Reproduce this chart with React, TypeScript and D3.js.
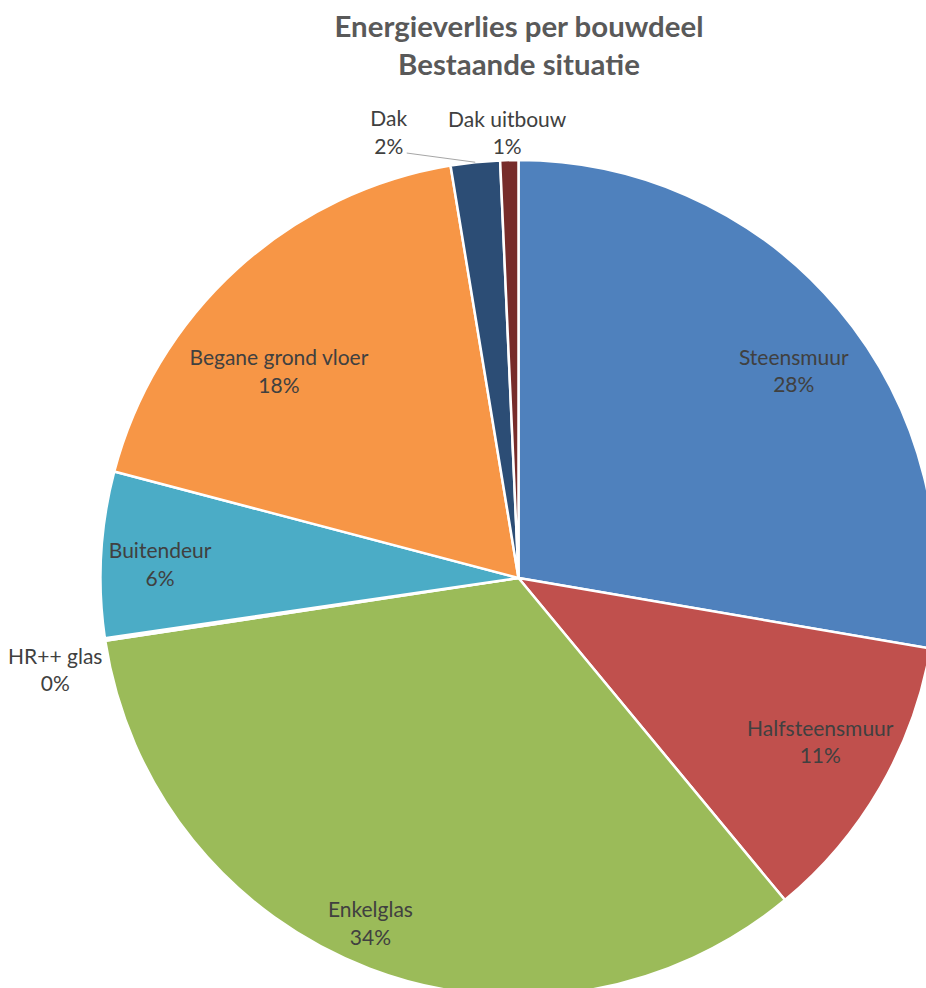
import React from 'react';
import * as d3 from 'd3';

const categories = ['Steensmuur', 'Halfsteensmuur', 'Enkelglas', 'HR++ glas', 'Buitendeur', 'Begane grond vloer', 'Dak', 'Dak uitbouw'];
const values = [27.7, 11.3, 33.6, 0.1, 6.4, 18.3, 1.9, 0.7];
const colors = ['#4F81BD', '#C0504D', '#9BBB59', '#8064A2', '#4BACC6', '#F79646', '#2C4D75', '#772C2A'];
const titleLines = ['Energieverlies per bouwdeel', 'Bestaande situatie'];

// label placement relative to slice mid angle: [angle shift (deg), radius fraction]
const labelPlacement: [number, number][] = [
  [3.2, 0.824],
  [-1.5, 0.822],
  [2.3, 0.9],
  [-2.8, 1.13],
  [-1.1, 0.858],
  [-7.0, 0.756],
  [-10.3, 1.11],
  [-0.2, 1.064],
];
const withLeader = [false, false, false, false, false, false, true, false];

const W = 926;
const H = 988;
const CX = 518.5;
const CY = 578;
const R = 418;

export default function App() {
  const total = d3.sum(values);
  const pie = d3.pie<number>().sort(null).startAngle(0).endAngle(2 * Math.PI);
  const arcs = pie(values);
  const arc = d3.arc<d3.PieArcDatum<number>>().innerRadius(0).outerRadius(R);
  const fmt = (v: number) => `${Math.round((v / total) * 100)}%`;
  const polar = (a: number, r: number) => [CX + r * Math.sin(a), CY - r * Math.cos(a)];

  return (
    <svg
      width={W}
      height={H}
      style={{ position: 'absolute', left: 0, top: 0, background: '#fff', overflow: 'hidden' }}
    >
      <rect x={0} y={0} width={W} height={H} fill="#fff" />
      <g transform={`translate(${CX},${CY})`}>
        {arcs.map((a, i) => (
          <path key={i} d={arc(a) || ''} fill={colors[i]} stroke="#fff" strokeWidth={2.5} strokeLinejoin="round" />
        ))}
      </g>
      <g fontFamily="Lato, 'Open Sans', sans-serif" fill="#595959" fontWeight="bold" fontSize={29.4} textAnchor="middle">
        {titleLines.map((t, i) => (
          <text key={i} x={519} y={37 + i * 38}>{t}</text>
        ))}
      </g>
      <g fontFamily="Lato, 'Open Sans', sans-serif" fill="#404040" fontSize={21} textAnchor="middle">
        {arcs.map((a, i) => {
          const mid = (a.startAngle + a.endAngle) / 2 + (labelPlacement[i][0] * Math.PI) / 180;
          const [x, y] = polar(mid, labelPlacement[i][1] * R);
          const edge = polar((a.startAngle + a.endAngle) / 2, R);
          return (
            <g key={i}>
              {withLeader[i] && (
                <line x1={x + 18} y1={y + 20.5} x2={edge[0]} y2={edge[1]} stroke="#A6A6A6" strokeWidth={1} />
              )}
              <text x={x} y={y - 6.5}>{categories[i]}</text>
              <text x={x} y={y + 21}>{fmt(values[i])}</text>
            </g>
          );
        })}
      </g>
    </svg>
  );
}
